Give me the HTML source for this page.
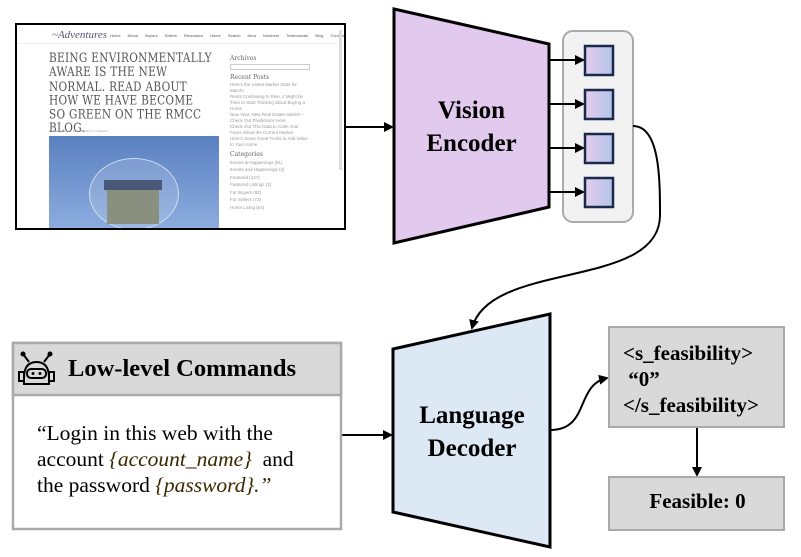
<!DOCTYPE html>
<html><head><meta charset="utf-8"><style>
body{margin:0;width:801px;height:557px;background:#fff;overflow:hidden;position:relative;font-family:"Liberation Serif",serif}
.abs{position:absolute}
</style></head><body>
<!-- screenshot -->
<div class="abs" style="left:15px;top:23px;width:327px;height:203px;border:2px solid #000;background:#fff;overflow:hidden">
 <div class="abs" style="left:35px;top:4px;font-size:11px;color:#557;font-style:italic">~Adventures</div>
 <div class="abs" style="left:93px;top:8px;font-size:4px;color:#555;font-family:'Liberation Sans';word-spacing:6px;white-space:nowrap">Home About Buyers Sellers Relocation Home&nbsp;Search Area&nbsp;Numbers Testimonials Blog Contact</div>
 <div class="abs" style="left:0;top:18px;width:320px;height:1px;background:#eee"></div>
 <div class="abs" style="left:32px;top:27px;font-size:10.5px;line-height:11.3px;color:#555;letter-spacing:0.3px;font-family:'DejaVu Serif',serif;white-space:nowrap;transform:scaleY(1.25);transform-origin:0 0">BEING ENVIRONMENTALLY<br>AWARE IS THE NEW<br>NORMAL. READ ABOUT<br>HOW WE HAVE BECOME<br>SO GREEN ON THE RMCC<br>BLOG.</div>
 <div class="abs" style="left:32px;top:104px;font-size:3px;color:#999">by Aiden | May 16, 2017 | Featured | 0 comments</div>
 <div class="abs" style="left:32px;top:111px;width:170px;height:95px;background:linear-gradient(#5a80c0,#8eaee0)">
  <div class="abs" style="left:40px;top:22px;width:88px;height:70px;border-radius:50%;border:1px solid #cde;background:rgba(255,255,255,0.15)"></div>
  <div class="abs" style="left:58px;top:52px;width:52px;height:36px;background:#8a9080"></div>
  <div class="abs" style="left:55px;top:44px;width:58px;height:10px;background:#4a5878"></div>
 </div>
 <div class="abs" style="left:213px;top:31px;font-size:6px;line-height:6.9px;color:#999;font-family:'Liberation Sans';width:80px">
  <div style="color:#666;font-family:'DejaVu Serif';font-size:6px">Archives</div>
  <div style="border:1px solid #ccc;height:4px;margin:1px 0 5px"></div>
  <div style="color:#666;font-family:'DejaVu Serif';font-size:6px">Recent Posts</div>
  <div style="font-size:4.5px;line-height:6px">Here's the Latest Market Stats for March!<br>Rents Continuing to Rise, it Might be Time to Start Thinking about Buying a Home<br>New Year, New Real Estate Market – Check Out Predictions Here<br>Check Out This Data to Calm Your Fears About the Current Market<br>Here's Some Great Tricks to Add Value to Your Home</div>
  <div style="color:#666;font-family:'DejaVu Serif';font-size:6px;margin-top:4px">Categories</div>
  <div style="font-size:4.5px;line-height:7.5px">Events &amp; Happenings (81)<br>Events and Happenings (2)<br>Featured (147)<br>Featured Listings (2)<br>For Buyers (92)<br>For Sellers (73)<br>Home Living (64)</div>
 </div>
 <div class="abs" style="left:322px;top:5px;width:3px;height:140px;background:#ddd"></div>
</div>

<svg class="abs" style="left:0;top:0" width="801" height="557">
<defs>
 <marker id="a" markerWidth="10" markerHeight="10" refX="8" refY="5" orient="auto" markerUnits="userSpaceOnUse"><path d="M0,0 L10,5 L0,10z" fill="#000"/></marker>
 <linearGradient id="g" x1="0" x2="1"><stop offset="0" stop-color="#e4cdee"/><stop offset="1" stop-color="#b4c4ea"/></linearGradient>
</defs>
<line x1="344" y1="127" x2="392" y2="127" stroke="#000" stroke-width="2" marker-end="url(#a)"/>
<polygon points="394,9 549,44 549,207 394,243" fill="#e2c9ee" stroke="#000" stroke-width="3"/>
<rect x="563" y="31" width="70" height="191" rx="10" fill="#f2f2f2" stroke="#aaa" stroke-width="2"/>
<g stroke="#1a2a4a" stroke-width="2.5" fill="url(#g)">
 <rect x="585" y="46" width="28" height="29"/><rect x="585" y="90" width="28" height="29"/>
 <rect x="585" y="134" width="28" height="29"/><rect x="585" y="178" width="28" height="29"/>
</g>
<g stroke="#000" stroke-width="2" marker-end="url(#a)">
 <line x1="549" y1="60" x2="583" y2="60"/><line x1="549" y1="104" x2="583" y2="104"/>
 <line x1="549" y1="148" x2="583" y2="148"/><line x1="549" y1="192" x2="583" y2="192"/>
</g>
<path d="M633,126 C660,126 660,180 660,215 C660,290 490,260 472,328" fill="none" stroke="#000" stroke-width="2" marker-end="url(#a)"/>
<polygon points="393,349 550,314 550,547 393,512" fill="#dde8f5" stroke="#000" stroke-width="3"/>
<line x1="342" y1="435" x2="391" y2="435" stroke="#000" stroke-width="2" marker-end="url(#a)"/>
<path d="M550,430 C590,430 575,385 607,378" fill="none" stroke="#000" stroke-width="2" marker-end="url(#a)"/>
<rect x="609" y="327" width="175" height="100" fill="#d9d9d9" stroke="#aaa" stroke-width="2"/>
<line x1="697" y1="428" x2="697" y2="475" stroke="#000" stroke-width="2" marker-end="url(#a)"/>
<rect x="609" y="477" width="175" height="53" fill="#d9d9d9" stroke="#aaa" stroke-width="2"/>
<rect x="13" y="343" width="328" height="186" fill="#fff" stroke="#aaa" stroke-width="2.5"/>
<rect x="13" y="343" width="328" height="52" fill="#d9d9d9" stroke="#aaa" stroke-width="2.5"/>
<!-- robot -->
<g stroke="#000" stroke-width="2" fill="none">
 <line x1="23" y1="354" x2="29" y2="362"/><line x1="50" y1="354" x2="44" y2="362"/>
 <circle cx="23" cy="354" r="1.5" fill="#000"/><circle cx="50" cy="354" r="1.5" fill="#000"/>
 <path d="M24,378 Q24,362 36.5,362 Q49,362 49,378 L49,384 L24,384 Z"/>
 <rect x="19" y="372" width="5" height="9"/><rect x="49" y="372" width="5" height="9"/>
 <rect x="27" y="369" width="19" height="9" rx="4"/>
</g>
<circle cx="33" cy="373.5" r="1.5"/><circle cx="40" cy="373.5" r="1.5"/>
</svg>

<div class="abs" style="left:394px;top:94px;width:155px;text-align:center;font-weight:bold;font-size:25px;line-height:33px">Vision<br>Encoder</div>
<div class="abs" style="left:394px;top:399px;width:156px;text-align:center;font-weight:bold;font-size:25px;line-height:33px">Language<br>Decoder</div>
<div class="abs" style="left:68px;top:354px;font-weight:bold;font-size:24.5px;line-height:30px">Low-level Commands</div>
<div class="abs" style="left:37px;top:420px;font-size:21.5px;line-height:26px;white-space:nowrap">“Login in this web with the<br>account <i style="color:#3a2800">{account_name}</i>&nbsp; and<br>the password <i style="color:#3a2800">{password}.”</i></div>
<div class="abs" style="left:623px;top:340px;font-weight:bold;font-size:21px;line-height:26px;white-space:nowrap">&lt;s_feasibility&gt;<br>&nbsp;“0”<br>&lt;/s_feasibility&gt;</div>
<div class="abs" style="left:609px;top:488px;width:177px;text-align:center;font-weight:bold;font-size:21px;line-height:26px">Feasible: 0</div>
</body></html>
